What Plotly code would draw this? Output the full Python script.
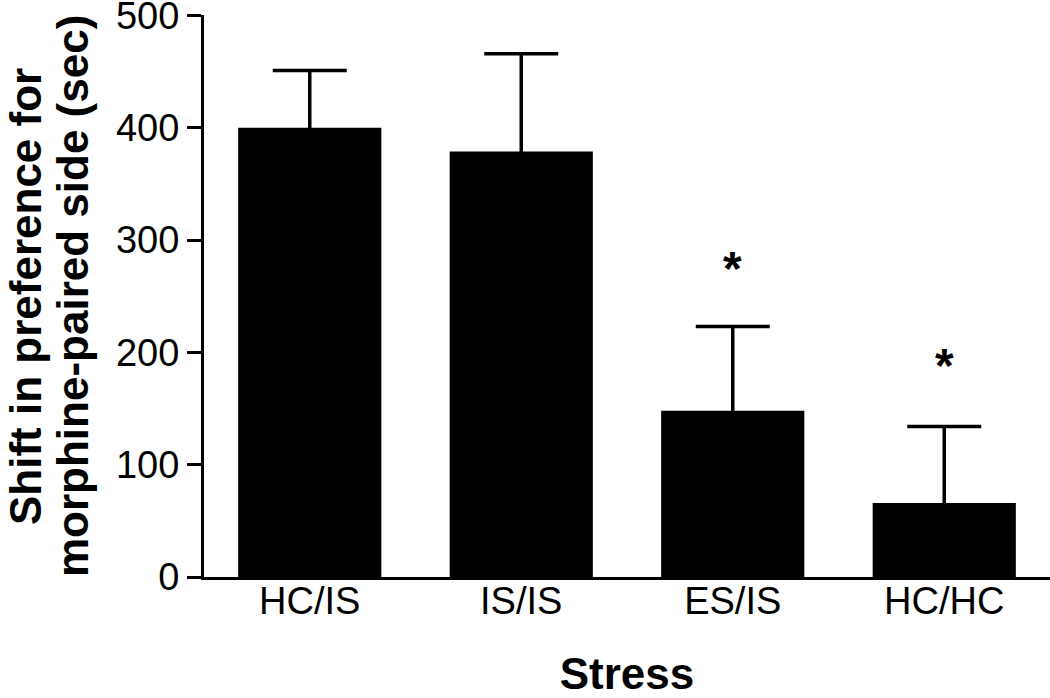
import plotly.graph_objects as go

categories = ["HC/IS", "IS/IS", "ES/IS", "HC/HC"]
means = [400, 379, 148, 66]
sem = [51, 87, 75, 68]
sig_labels = ["", "", "*", "*"]
sig_y = [None, None, 275, 188]
y_ticks = [0, 100, 200, 300, 400, 500]
y_title_lines = ["Shift in preference for", "morphine-paired side (sec)"]
x_title = "Stress"

FONT = "Liberation Sans, Arial, sans-serif"

fig = go.Figure()
# error bars (lower end hidden behind the bars drawn on top)
fig.add_trace(go.Bar(
    x=categories, y=means,
    marker=dict(color="rgba(0,0,0,0)", line=dict(width=0)),
    error_y=dict(type="data", array=sem, arrayminus=[30]*len(sem), symmetric=False,
                 color="black", thickness=3.5, width=37),
    width=0.677, showlegend=False, hoverinfo="skip",
))
fig.add_trace(go.Bar(
    x=categories, y=means,
    marker=dict(color="black", line=dict(width=0)),
    width=0.677, showlegend=False,
))

for c, lab, yv in zip(categories, sig_labels, sig_y):
    if lab:
        fig.add_annotation(x=c, y=yv, text="<b>" + lab + "</b>", showarrow=False,
                           font=dict(family=FONT, size=48, color="black"),
                           xanchor="center", yanchor="middle")

for xp, line in zip([-0.2116, -0.156], y_title_lines):
    fig.add_annotation(xref="paper", yref="paper", x=xp, y=0.5, text="<b>" + line + "</b>",
                       textangle=-90, showarrow=False, xanchor="center", yanchor="middle",
                       font=dict(family=FONT, size=44, color="black"))

fig.update_layout(
    width=1050, height=698,
    margin=dict(l=204, r=0, t=15, b=121),
    paper_bgcolor="white", plot_bgcolor="white",
    font=dict(family=FONT, color="black"),
    barmode="overlay",
    xaxis=dict(
        range=[-0.5, 3.5], showline=True, linecolor="black", linewidth=3,
        ticks="", tickfont=dict(size=38, family=FONT, color="black"),
        ticklabelstandoff=-12,
        title=dict(text="<b>" + x_title + "</b>", font=dict(size=44, family=FONT, color="black"), standoff=60),
        showgrid=False, zeroline=False, automargin=False,
    ),
    yaxis=dict(
        range=[0, 500.5], tickvals=y_ticks, showline=True, linecolor="black", linewidth=3,
        ticks="outside", ticklen=14, tickwidth=3, tickcolor="black",
        tickfont=dict(size=38, family=FONT, color="black"),
        ticklabeloverflow="allow",
        showgrid=False, zeroline=False, automargin=False,
    ),
)

fig.write_html("out.html", config={"displayModeBar": False},
               post_script="document.body.style.margin='0';")
